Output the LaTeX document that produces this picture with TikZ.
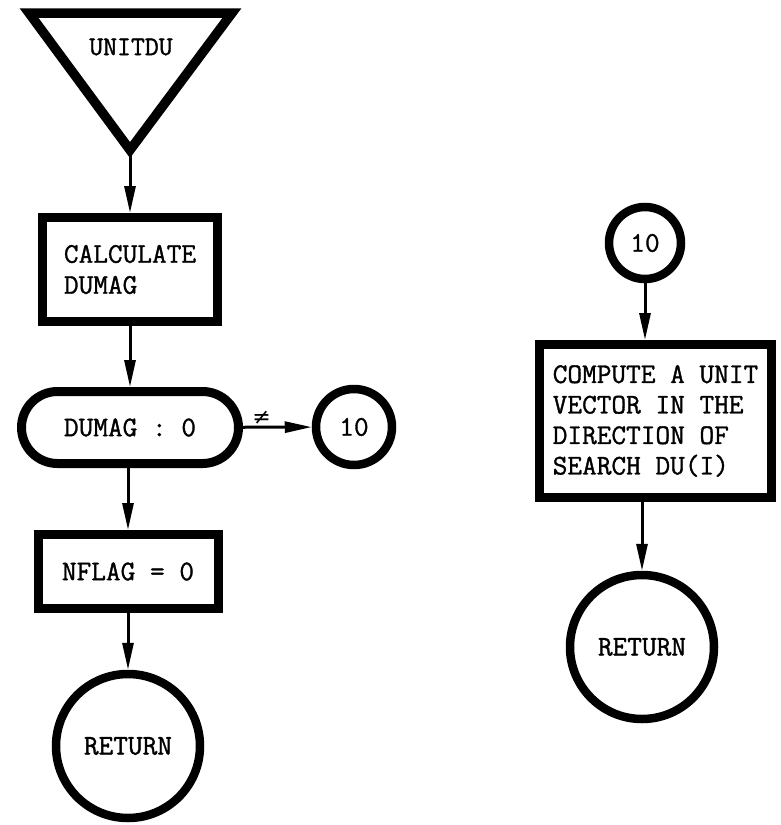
\documentclass[tikz,border=0pt]{standalone}
\usepackage{amsmath,amssymb}
\usepackage{fontspec}
\setmonofont{Latin Modern Mono}[FakeBold=1.2]
\newfontfamily\relfont{DejaVu Sans}
\usepackage{tikz}
\usetikzlibrary{arrows.meta, positioning, calc}

\begin{document}
\begin{tikzpicture}[x=1pt, y=-1pt,
    flowbox/.style={rectangle, draw, line width=9pt, inner sep=0pt, align=left,
      font=\ttfamily\fontsize{28.5}{31}\selectfont},
    flowpill/.style={rectangle, rounded corners=36pt, draw, line width=9pt, inner sep=0pt,
      font=\ttfamily\fontsize{28.5}{31}\selectfont},
    flowcirc/.style={circle, draw, line width=8.5pt, inner sep=0pt,
      font=\ttfamily\fontsize{28.5}{31}\selectfont},
    flowline/.style={line width=3pt, -{Triangle[length=27pt, width=11pt]}}
  ]
  \useasboundingbox (0,0) rectangle (780,825);

  % entry point
  \coordinate (tl) at (29,13);
  \coordinate (tr) at (232,13);
  \coordinate (apex) at (130,150);
  \draw[line width=9.5pt, line join=miter] (tl) -- (tr) -- (apex) -- cycle;
  \node[font=\ttfamily\fontsize{27}{30}\selectfont] (entry) at (131,47) {UNITDU};

  % left branch
  \node[flowbox, minimum width=175pt, minimum height=104pt] (calc) at (130,269.5)
    {CALCULATE\\DUMAG};
  \node[flowpill, minimum width=217pt, minimum height=72pt] (test) at (130,427.5)
    {DUMAG : 0};
  \node[flowcirc, minimum size=76pt] (goa) at (354,427) {10};
  \node[flowbox, minimum width=180pt, minimum height=74pt] (flag) at (128,571.5)
    {NFLAG = 0};
  \node[flowcirc, minimum size=144pt] (reta) at (128,746) {RETURN};

  \draw[flowline] (apex) -- (calc.north -| apex);
  \draw[flowline] (calc) -- (test);
  \draw[flowline] (test) -- (goa)
    node[pos=0.27, above=1pt, inner sep=0pt, font=\relfont\fontsize{22}{24}\selectfont] {≠};
  \draw[flowline] (test.south -| reta) -- (flag.north -| reta);
  \draw[flowline] (flag) -- (reta);

  % right branch
  \node[flowcirc, minimum size=72pt] (gob) at (645,243) {10};
  \node[flowbox, minimum width=232pt, minimum height=153pt,
    font=\ttfamily\fontsize{28.5}{30.5}\selectfont] (unit) at (655.5,421)
    {COMPUTE A UNIT\\VECTOR IN THE\\DIRECTION OF\\SEARCH DU(I)};
  \node[flowcirc, minimum size=144pt] (retb) at (642,647) {RETURN};

  \draw[flowline] (gob) -- (gob |- unit.north);
  \draw[flowline] (unit.south -| retb) -- (retb);
\end{tikzpicture}
\end{document}
